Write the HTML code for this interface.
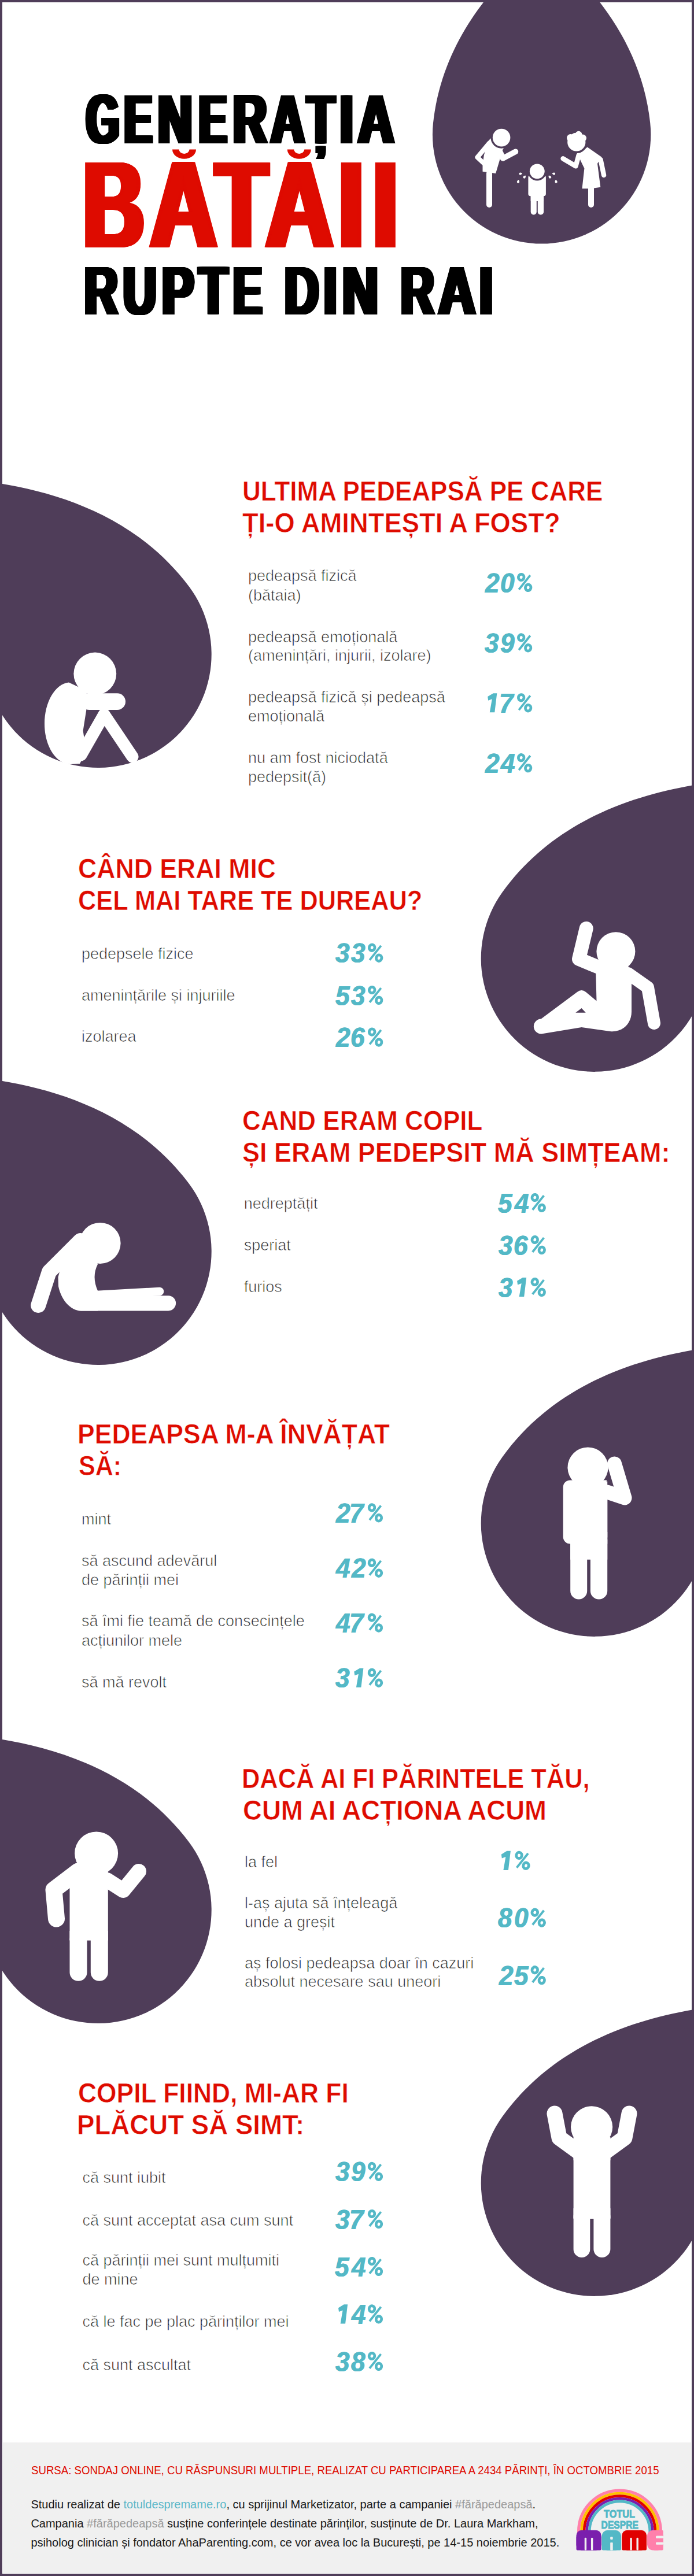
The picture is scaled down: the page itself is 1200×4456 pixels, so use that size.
<!DOCTYPE html>
<html><head><meta charset="utf-8"><title>Generatia bataii</title>
<style>
html,body{margin:0;padding:0;background:#fff}
#page{position:relative;width:1200px;height:4456px;overflow:hidden;background:#fff}
.t{position:absolute;white-space:nowrap;line-height:1;transform-origin:0 0}
svg{position:absolute;left:0;top:0}
</style></head><body>
<div id="page">
<svg width="1200" height="4456" viewBox="0 0 1200 4456"><path d="M936.60,-98.37 C1019.50,-30.13 1108.83,71.00 1124.20,212.52 A188.70 188.70 0 1 1 749.00,212.52 C764.37,71.00 853.70,-30.13 936.60,-98.37 Z" fill="#4f3d59"/>
<path d="M-5.83,835.33 C104.47,852.53 237.94,895.75 326.60,1014.27 A196.20 196.20 0 1 1 -9.18,1212.85 C-70.33,1078.06 -43.90,940.28 -5.83,835.33 Z" fill="#4f3d59"/>
<path d="M1197.13,1358.43 C1237.17,1462.51 1266.21,1599.62 1207.72,1735.43 A196.00 196.00 0 1 1 868.53,1543.53 C954.81,1423.44 1087.29,1377.72 1197.13,1358.43 Z" fill="#4f3d59"/>
<path d="M-5.83,1868.33 C104.47,1885.53 237.94,1928.75 326.60,2047.27 A196.20 196.20 0 1 1 -9.18,2245.85 C-70.33,2111.06 -43.90,1973.28 -5.83,1868.33 Z" fill="#4f3d59"/>
<path d="M1197.13,2335.43 C1237.17,2439.51 1266.21,2576.62 1207.72,2712.43 A196.00 196.00 0 1 1 868.53,2520.53 C954.81,2400.44 1087.29,2354.72 1197.13,2335.43 Z" fill="#4f3d59"/>
<path d="M-5.83,3007.33 C104.47,3024.53 237.94,3067.75 326.60,3186.27 A196.20 196.20 0 1 1 -9.18,3384.85 C-70.33,3250.06 -43.90,3112.28 -5.83,3007.33 Z" fill="#4f3d59"/>
<path d="M1197.13,3476.43 C1237.17,3580.51 1266.21,3717.62 1207.72,3853.43 A196.00 196.00 0 1 1 868.53,3661.53 C954.81,3541.44 1087.29,3495.72 1197.13,3476.43 Z" fill="#4f3d59"/>
<polygon points="845,243 853,235 875,250 869.5,258.4 857.1,300 834.5,296.7 834.5,285 836.8,268.5 840.5,256" fill="#ffffff"/>
<polyline points="846.1,247.4 825.4,272.1 836.4,282.4" fill="none" stroke="#ffffff" stroke-width="8" stroke-linecap="round" stroke-linejoin="round"/>
<polyline points="865.6,264.3 869.5,274 891.5,262.3" fill="none" stroke="#ffffff" stroke-width="9.5" stroke-linecap="round" stroke-linejoin="round"/>
<polyline points="846,300 846,354" fill="none" stroke="#ffffff" stroke-width="10" stroke-linecap="round" stroke-linejoin="round"/>
<circle cx="867.1" cy="238.1" r="18.6" fill="#4f3d59"/>
<circle cx="867.1" cy="238.1" r="15.3" fill="#ffffff"/>
<rect x="913.4" y="302.9" width="30.5" height="36.3" rx="4" fill="#ffffff"/>
<rect x="917.7" y="330" width="10.1" height="41.4" rx="5" fill="#ffffff"/>
<rect x="929.8" y="330" width="10.3" height="41.4" rx="5" fill="#ffffff"/>
<rect x="917.7" y="330" width="22.4" height="18" rx="0" fill="#ffffff"/>
<circle cx="928.8" cy="296.3" r="16.2" fill="#4f3d59"/>
<circle cx="928.8" cy="296.3" r="12.9" fill="#ffffff"/>
<path d="M903.13,299.86 C902.54,300.90 901.61,302.07 900.09,302.52 A2.10 2.10 0 1 1 899.36,298.40 C900.94,298.30 902.22,299.08 903.13,299.86 Z" fill="#ffffff"/>
<path d="M908.87,303.68 C909.09,304.85 909.13,306.35 908.25,307.67 A2.10 2.10 0 1 1 905.05,304.98 C906.19,303.89 907.67,303.66 908.87,303.68 Z" fill="#ffffff"/>
<path d="M896.64,310.97 C897.42,311.88 898.20,313.16 898.10,314.74 A2.10 2.10 0 1 1 893.98,314.01 C894.43,312.49 895.60,311.56 896.64,310.97 Z" fill="#ffffff"/>
<path d="M954.47,299.86 C955.38,299.08 956.66,298.30 958.24,298.40 A2.10 2.10 0 1 1 957.51,302.52 C955.99,302.07 955.06,300.90 954.47,299.86 Z" fill="#ffffff"/>
<path d="M948.73,303.68 C949.93,303.66 951.41,303.89 952.55,304.98 A2.10 2.10 0 1 1 949.35,307.67 C948.47,306.35 948.51,304.85 948.73,303.68 Z" fill="#ffffff"/>
<path d="M960.96,310.97 C962.00,311.56 963.17,312.49 963.62,314.01 A2.10 2.10 0 1 1 959.50,314.74 C959.40,313.16 960.18,311.88 960.96,310.97 Z" fill="#ffffff"/>
<polygon points="1000,266.7 1015.6,254.4 1040,271.5 1033,283 1038.3,323.7 1022,326.3 1006.5,326.3 1010.4,291.3 1003.5,277" fill="#ffffff"/>
<polyline points="1038.5,276 1044.1,303" fill="none" stroke="#ffffff" stroke-width="8.4" stroke-linecap="round" stroke-linejoin="round"/>
<polyline points="1000.7,268.3 995.5,287.4 973.5,274.3" fill="none" stroke="#ffffff" stroke-width="8.4" stroke-linecap="round" stroke-linejoin="round"/>
<polyline points="1022,326 1022,354" fill="none" stroke="#ffffff" stroke-width="10" stroke-linecap="round" stroke-linejoin="round"/>
<circle cx="996.8" cy="245.9" r="19.2" fill="#4f3d59"/>
<circle cx="996.8" cy="245.9" r="15.6" fill="#ffffff"/>
<circle cx="1000.5" cy="232.5" r="5.8" fill="#ffffff"/>
<circle cx="1007.5" cy="239" r="6.5" fill="#ffffff"/>
<circle cx="986.5" cy="238.5" r="6.5" fill="#ffffff"/>
<circle cx="994" cy="236" r="6" fill="#ffffff"/>
<path d="M119,1180.5 C95,1183 77,1215 77,1252 C77,1292 98,1322 122,1322 L138,1321 L149,1300 L143.6,1264 L149.3,1228 L150,1195 Z" fill="#fff"/>
<polyline points="140,1306 180,1236" fill="none" stroke="#ffffff" stroke-width="21" stroke-linecap="round" stroke-linejoin="round"/>
<polyline points="180,1236 229,1309" fill="none" stroke="#ffffff" stroke-width="21" stroke-linecap="round" stroke-linejoin="round"/>
<rect x="140" y="1199.3" width="77" height="28.7" rx="14.3" fill="#ffffff"/>
<circle cx="164.3" cy="1165.5" r="36.9" fill="#ffffff"/>
<polyline points="1013.7,1606 1001,1659 1035,1673" fill="none" stroke="#ffffff" stroke-width="24" stroke-linecap="round" stroke-linejoin="round"/>
<polyline points="1086,1684 1120,1708 1131,1770" fill="none" stroke="#ffffff" stroke-width="22" stroke-linecap="round" stroke-linejoin="round"/>
<path d="M1030,1672 L1085,1664 L1092,1700 L1092,1750 C1092,1772 1075,1786 1055,1784 L1005.6,1777 L936,1788.5 A12.9 12.9 0 0 1 935.6,1762.6 L998,1716 Q1005.6,1710 1013,1716 L1031.5,1731.5 Z" fill="#fff"/>
<polygon points="995.2,1751.7 1005.6,1743.9 1012.8,1751.7" fill="#4f3d59"/>
<circle cx="1064.9" cy="1645.7" r="33.5" fill="#ffffff"/>
<polyline points="139,2146 85,2200 66.2,2258" fill="none" stroke="#ffffff" stroke-width="26" stroke-linecap="round" stroke-linejoin="round"/>
<path d="M132.8,2136.3 L160,2165 L169.1,2186.7 Q158,2208 169.1,2233.1 L169.1,2267.4 L136.8,2267.4 C118,2264 105,2245 101,2225 L100.5,2208.9 L110,2175 Z" fill="#fff"/>
<polyline points="167,2240 276,2234" fill="none" stroke="#ffffff" stroke-width="14.5" stroke-linecap="round" stroke-linejoin="round"/>
<polyline points="140,2254.3 291,2254.3" fill="none" stroke="#ffffff" stroke-width="26.2" stroke-linecap="round" stroke-linejoin="round"/>
<circle cx="173.1" cy="2150.4" r="35.5" fill="#ffffff"/>
<rect x="973.7" y="2560.4" width="76.5" height="110.2" rx="12" fill="#ffffff"/>
<rect x="1000" y="2560.4" width="50.2" height="110.2" rx="0" fill="#ffffff"/>
<rect x="986.2" y="2650" width="29" height="116.6" rx="14.5" fill="#ffffff"/>
<rect x="1020.9" y="2650" width="29.3" height="116.6" rx="14.6" fill="#ffffff"/>
<rect x="986.2" y="2650" width="64" height="47.8" rx="0" fill="#ffffff"/>
<polyline points="1062.5,2532 1080,2591 1050,2581" fill="none" stroke="#ffffff" stroke-width="25" stroke-linecap="round" stroke-linejoin="round"/>
<polygon points="1048.5,2562.5 1051.5,2554 1054.5,2562.5" fill="#4f3d59"/>
<circle cx="1016.5" cy="2538.4" r="35" fill="#ffffff"/>
<rect x="120.5" y="3235.3" width="66.3" height="121" rx="0" fill="#ffffff"/>
<rect x="120.5" y="3340" width="30" height="86.8" rx="15" fill="#ffffff"/>
<rect x="156.8" y="3340" width="30" height="86.8" rx="15" fill="#ffffff"/>
<rect x="120.5" y="3340" width="66.3" height="16.5" rx="0" fill="#ffffff"/>
<polyline points="135,3237 93,3269 97.5,3319" fill="none" stroke="#ffffff" stroke-width="29" stroke-linecap="round" stroke-linejoin="round"/>
<polyline points="185,3252 213,3270 240,3237" fill="none" stroke="#ffffff" stroke-width="26" stroke-linecap="round" stroke-linejoin="round"/>
<circle cx="166.6" cy="3205.9" r="37.5" fill="#ffffff"/>
<rect x="991.6" y="3725" width="63.8" height="113" rx="0" fill="#ffffff"/>
<rect x="991.6" y="3820" width="28.7" height="85" rx="14.3" fill="#ffffff"/>
<rect x="1026.4" y="3820" width="29" height="85" rx="14.5" fill="#ffffff"/>
<rect x="991.6" y="3820" width="63.8" height="17.2" rx="0" fill="#ffffff"/>
<polyline points="959,3656 967,3698 1000,3722" fill="none" stroke="#ffffff" stroke-width="27" stroke-linecap="round" stroke-linejoin="round"/>
<polyline points="1088,3656 1080,3698 1047,3722" fill="none" stroke="#ffffff" stroke-width="27" stroke-linecap="round" stroke-linejoin="round"/>
<rect x="991.6" y="3697" width="63.8" height="40" rx="0" fill="#ffffff"/>
<circle cx="1023.1" cy="3679.3" r="36.1" fill="#ffffff"/>
<path d="M298.0,258.6 A20.5 16.2 0 0 0 339.0,258.6 L327.5,258.6 A9 7.3 0 0 1 309.5,258.6 Z" fill="#de0b00"/>
<path d="M496.79999999999995,258.6 A20.5 16.2 0 0 0 537.8,258.6 L526.3,258.6 A9 7.3 0 0 1 508.29999999999995,258.6 Z" fill="#de0b00"/>
<rect x="5" y="4225" width="1190" height="226" rx="0" fill="#f0f0f0"/>
<path d="M1000.6,4383 L1000.6,4379 A70.9 70.9 0 0 1 1142.4,4379 L1142.4,4383" fill="none" stroke="#ff80ab" stroke-width="5.2"/>
<path d="M1005.5,4383 L1005.5,4379 A66.0 66.0 0 0 1 1137.5,4379 L1137.5,4383" fill="none" stroke="#ffc000" stroke-width="4.6"/>
<path d="M1010.1,4383 L1010.1,4379 A61.4 61.4 0 0 1 1132.9,4379 L1132.9,4383" fill="none" stroke="#e00000" stroke-width="4.6"/>
<path d="M1014.7,4383 L1014.7,4379 A56.8 56.8 0 0 1 1128.3,4379 L1128.3,4383" fill="none" stroke="#7a1fad" stroke-width="4.6"/>
<path d="M1019.3,4383 L1019.3,4379 A52.2 52.2 0 0 1 1123.7,4379 L1123.7,4383" fill="none" stroke="#53b8c6" stroke-width="4.6"/>
<text x="1071" y="4355.4" text-anchor="middle" font-family="Liberation Sans" font-weight="bold" font-size="18.5" fill="#53b8c6" stroke="#53b8c6" stroke-width="0.9" textLength="54" lengthAdjust="spacingAndGlyphs">TOTUL</text>
<text x="1071.8" y="4373.8" text-anchor="middle" font-family="Liberation Sans" font-weight="bold" font-size="18.5" fill="#53b8c6" stroke="#53b8c6" stroke-width="0.9" textLength="64.4" lengthAdjust="spacingAndGlyphs">DESPRE</text>
<rect x="996.5" y="4376.8" width="43.09999999999991" height="34.599999999999454" rx="9" fill="#7a1fad"/>
<rect x="996.5" y="4386.8" width="43.09999999999991" height="24.599999999999454" rx="2" fill="#7a1fad"/>
<rect x="1010.747" y="4389.8" width="3.4" height="21.599999999999454" rx="1.5" fill="#f0f0f0"/>
<rect x="1021.9529999999999" y="4389.8" width="3.4" height="21.599999999999454" rx="1.5" fill="#f0f0f0"/>
<rect x="1040.7" y="4376.8" width="33.3" height="34.6" rx="10" fill="#53b8c6"/>
<rect x="1040.7" y="4386" width="33.3" height="25.4" rx="2" fill="#53b8c6"/>
<rect x="1055.2" y="4398" width="4.5" height="13.4" rx="1" fill="#f0f0f0"/>
<rect x="1055.2" y="4388" width="4.5" height="5" rx="1.5" fill="#f0f0f0"/>
<rect x="1075.3" y="4376.8" width="42.700000000000045" height="34.599999999999454" rx="9" fill="#e00000"/>
<rect x="1075.3" y="4386.8" width="42.700000000000045" height="24.599999999999454" rx="2" fill="#e00000"/>
<rect x="1089.399" y="4389.8" width="3.4" height="21.599999999999454" rx="1.5" fill="#f0f0f0"/>
<rect x="1100.501" y="4389.8" width="3.4" height="21.599999999999454" rx="1.5" fill="#f0f0f0"/>
<rect x="1119" y="4376.8" width="27.8" height="34.6" rx="10" fill="#ff80ab"/>
<rect x="1130" y="4376.8" width="16.8" height="34.6" rx="2" fill="#ff80ab"/>
<rect x="1134" y="4386.5" width="13" height="4.2" rx="1.5" fill="#f0f0f0"/>
<rect x="1134" y="4397.5" width="13" height="4.2" rx="1.5" fill="#f0f0f0"/></svg>
<div class="t" style="left:418.9px;top:826.0px;font-size:47.8px;color:#de0b00;font-family:'Liberation Sans',sans-serif;font-weight:bold;-webkit-text-stroke:0.6px #fff;transform:scaleX(0.9205);">ULTIMA PEDEAPSĂ PE CARE</div>
<div class="t" style="left:419.1px;top:881.0px;font-size:47.8px;color:#de0b00;font-family:'Liberation Sans',sans-serif;font-weight:bold;-webkit-text-stroke:0.6px #fff;transform:scaleX(0.9496);">ȚI-O AMINTEȘTI A FOST?</div>
<div class="t" style="left:429.0px;top:983.4px;font-size:27px;color:#262626;font-family:'Liberation Sans',sans-serif;font-weight:normal;-webkit-text-stroke:0.75px #fff;">pedeapsă fizică</div>
<div class="t" style="left:429.0px;top:1016.6px;font-size:27px;color:#262626;font-family:'Liberation Sans',sans-serif;font-weight:normal;-webkit-text-stroke:0.75px #fff;">(bătaia)</div>
<div class="t" style="left:429.0px;top:1089.1px;font-size:27px;color:#262626;font-family:'Liberation Sans',sans-serif;font-weight:normal;-webkit-text-stroke:0.75px #fff;">pedeapsă emoțională</div>
<div class="t" style="left:429.0px;top:1121.4px;font-size:27px;color:#262626;font-family:'Liberation Sans',sans-serif;font-weight:normal;-webkit-text-stroke:0.75px #fff;">(amenințări, injurii, izolare)</div>
<div class="t" style="left:429.0px;top:1193.2px;font-size:27px;color:#262626;font-family:'Liberation Sans',sans-serif;font-weight:normal;-webkit-text-stroke:0.75px #fff;">pedeapsă fizică și pedeapsă</div>
<div class="t" style="left:429.0px;top:1226.3px;font-size:27px;color:#262626;font-family:'Liberation Sans',sans-serif;font-weight:normal;-webkit-text-stroke:0.75px #fff;">emoțională</div>
<div class="t" style="left:429.0px;top:1298.3px;font-size:27px;color:#262626;font-family:'Liberation Sans',sans-serif;font-weight:normal;-webkit-text-stroke:0.75px #fff;">nu am fost niciodată</div>
<div class="t" style="left:429.0px;top:1330.9px;font-size:27px;color:#262626;font-family:'Liberation Sans',sans-serif;font-weight:normal;-webkit-text-stroke:0.75px #fff;">pedepsit(ă)</div>
<div class="t" style="left:135.2px;top:1479.0px;font-size:47.8px;color:#de0b00;font-family:'Liberation Sans',sans-serif;font-weight:bold;-webkit-text-stroke:0.6px #fff;transform:scaleX(0.9334);">CÂND ERAI MIC</div>
<div class="t" style="left:135.3px;top:1533.7px;font-size:47.8px;color:#de0b00;font-family:'Liberation Sans',sans-serif;font-weight:bold;-webkit-text-stroke:0.6px #fff;transform:scaleX(0.9063);">CEL MAI TARE TE DUREAU?</div>
<div class="t" style="left:141.0px;top:1636.9px;font-size:27px;color:#262626;font-family:'Liberation Sans',sans-serif;font-weight:normal;-webkit-text-stroke:0.75px #fff;">pedepsele fizice</div>
<div class="t" style="left:141.0px;top:1709.0px;font-size:27px;color:#262626;font-family:'Liberation Sans',sans-serif;font-weight:normal;-webkit-text-stroke:0.75px #fff;">amenințările și injuriile</div>
<div class="t" style="left:141.0px;top:1780.4px;font-size:27px;color:#262626;font-family:'Liberation Sans',sans-serif;font-weight:normal;-webkit-text-stroke:0.75px #fff;">izolarea</div>
<div class="t" style="left:418.6px;top:1915.0px;font-size:47.8px;color:#de0b00;font-family:'Liberation Sans',sans-serif;font-weight:bold;-webkit-text-stroke:0.6px #fff;transform:scaleX(0.9203);">CAND ERAM COPIL</div>
<div class="t" style="left:418.5px;top:1969.8px;font-size:47.8px;color:#de0b00;font-family:'Liberation Sans',sans-serif;font-weight:bold;-webkit-text-stroke:0.6px #fff;transform:scaleX(0.9408);">ȘI ERAM PEDEPSIT MĂ SIMȚEAM:</div>
<div class="t" style="left:421.8px;top:2069.0px;font-size:27px;color:#262626;font-family:'Liberation Sans',sans-serif;font-weight:normal;-webkit-text-stroke:0.75px #fff;">nedreptățit</div>
<div class="t" style="left:421.8px;top:2141.2px;font-size:27px;color:#262626;font-family:'Liberation Sans',sans-serif;font-weight:normal;-webkit-text-stroke:0.75px #fff;">speriat</div>
<div class="t" style="left:421.8px;top:2212.5px;font-size:27px;color:#262626;font-family:'Liberation Sans',sans-serif;font-weight:normal;-webkit-text-stroke:0.75px #fff;">furios</div>
<div class="t" style="left:133.8px;top:2456.7px;font-size:47.8px;color:#de0b00;font-family:'Liberation Sans',sans-serif;font-weight:bold;-webkit-text-stroke:0.6px #fff;transform:scaleX(0.9313);">PEDEAPSA M-A ÎNVĂȚAT</div>
<div class="t" style="left:135.7px;top:2511.5px;font-size:47.8px;color:#de0b00;font-family:'Liberation Sans',sans-serif;font-weight:bold;-webkit-text-stroke:0.6px #fff;transform:scaleX(0.9013);">SĂ:</div>
<div class="t" style="left:141.0px;top:2614.7px;font-size:27px;color:#262626;font-family:'Liberation Sans',sans-serif;font-weight:normal;-webkit-text-stroke:0.75px #fff;">mint</div>
<div class="t" style="left:141.0px;top:2686.9px;font-size:27px;color:#262626;font-family:'Liberation Sans',sans-serif;font-weight:normal;-webkit-text-stroke:0.75px #fff;">să ascund adevărul</div>
<div class="t" style="left:141.0px;top:2720.2px;font-size:27px;color:#262626;font-family:'Liberation Sans',sans-serif;font-weight:normal;-webkit-text-stroke:0.75px #fff;">de părinții mei</div>
<div class="t" style="left:141.0px;top:2791.0px;font-size:27px;color:#262626;font-family:'Liberation Sans',sans-serif;font-weight:normal;-webkit-text-stroke:0.75px #fff;">să îmi fie teamă de consecințele</div>
<div class="t" style="left:141.0px;top:2824.5px;font-size:27px;color:#262626;font-family:'Liberation Sans',sans-serif;font-weight:normal;-webkit-text-stroke:0.75px #fff;">acțiunilor mele</div>
<div class="t" style="left:141.0px;top:2896.5px;font-size:27px;color:#262626;font-family:'Liberation Sans',sans-serif;font-weight:normal;-webkit-text-stroke:0.75px #fff;">să mă revolt</div>
<div class="t" style="left:418.2px;top:3052.7px;font-size:47.8px;color:#de0b00;font-family:'Liberation Sans',sans-serif;font-weight:bold;-webkit-text-stroke:0.6px #fff;transform:scaleX(0.9087);">DACĂ AI FI PĂRINTELE TĂU,</div>
<div class="t" style="left:419.9px;top:3107.6px;font-size:47.8px;color:#de0b00;font-family:'Liberation Sans',sans-serif;font-weight:bold;-webkit-text-stroke:0.6px #fff;transform:scaleX(0.9538);">CUM AI ACȚIONA ACUM</div>
<div class="t" style="left:423.0px;top:3207.6px;font-size:27px;color:#262626;font-family:'Liberation Sans',sans-serif;font-weight:normal;-webkit-text-stroke:0.75px #fff;">la fel</div>
<div class="t" style="left:423.0px;top:3279.0px;font-size:27px;color:#262626;font-family:'Liberation Sans',sans-serif;font-weight:normal;-webkit-text-stroke:0.75px #fff;">l-aș ajuta să înțeleagă</div>
<div class="t" style="left:423.0px;top:3312.4px;font-size:27px;color:#262626;font-family:'Liberation Sans',sans-serif;font-weight:normal;-webkit-text-stroke:0.75px #fff;">unde a greșit</div>
<div class="t" style="left:423.0px;top:3383.0px;font-size:27px;color:#262626;font-family:'Liberation Sans',sans-serif;font-weight:normal;-webkit-text-stroke:0.75px #fff;">aș folosi pedeapsa doar în cazuri</div>
<div class="t" style="left:423.0px;top:3415.0px;font-size:27px;color:#262626;font-family:'Liberation Sans',sans-serif;font-weight:normal;-webkit-text-stroke:0.75px #fff;">absolut necesare sau uneori</div>
<div class="t" style="left:135.2px;top:3596.8px;font-size:47.8px;color:#de0b00;font-family:'Liberation Sans',sans-serif;font-weight:bold;-webkit-text-stroke:0.6px #fff;transform:scaleX(0.9289);">COPIL FIIND, MI-AR FI</div>
<div class="t" style="left:133.3px;top:3651.6px;font-size:47.8px;color:#de0b00;font-family:'Liberation Sans',sans-serif;font-weight:bold;-webkit-text-stroke:0.6px #fff;transform:scaleX(0.9551);">PLĂCUT SĂ SIMT:</div>
<div class="t" style="left:142.4px;top:3754.3px;font-size:27px;color:#262626;font-family:'Liberation Sans',sans-serif;font-weight:normal;-webkit-text-stroke:0.75px #fff;">că sunt iubit</div>
<div class="t" style="left:142.4px;top:3827.5px;font-size:27px;color:#262626;font-family:'Liberation Sans',sans-serif;font-weight:normal;-webkit-text-stroke:0.75px #fff;">că sunt acceptat asa cum sunt</div>
<div class="t" style="left:142.4px;top:3896.7px;font-size:27px;color:#262626;font-family:'Liberation Sans',sans-serif;font-weight:normal;-webkit-text-stroke:0.75px #fff;">că părinții mei sunt mulțumiti</div>
<div class="t" style="left:142.4px;top:3930.0px;font-size:27px;color:#262626;font-family:'Liberation Sans',sans-serif;font-weight:normal;-webkit-text-stroke:0.75px #fff;">de mine</div>
<div class="t" style="left:142.4px;top:4003.0px;font-size:27px;color:#262626;font-family:'Liberation Sans',sans-serif;font-weight:normal;-webkit-text-stroke:0.75px #fff;">că le fac pe plac părinților mei</div>
<div class="t" style="left:142.4px;top:4077.5px;font-size:27px;color:#262626;font-family:'Liberation Sans',sans-serif;font-weight:normal;-webkit-text-stroke:0.75px #fff;">că sunt ascultat</div>
<div class="t" style="left:53.5px;top:4263.0px;font-size:20px;color:#de0b00;font-family:'Liberation Sans',sans-serif;font-weight:normal;transform:scaleX(0.9314);">SURSA: SONDAJ ONLINE, CU RĂSPUNSURI MULTIPLE, REALIZAT CU PARTICIPAREA A 2434 PĂRINȚI, ÎN OCTOMBRIE 2015</div>
<div class="t" style="left:53.4px;top:4321.8px;font-size:20px;color:#1a1a1a;font-family:'Liberation Sans',sans-serif;font-weight:normal;">Studiu realizat de <span style="color:#5bb8c9">totuldespremame.ro</span>, cu sprijinul Marketizator, parte a campaniei <span style="color:#9a9a9a">#fărăpedeapsă</span>.</div>
<div class="t" style="left:53.4px;top:4355.2px;font-size:20px;color:#1a1a1a;font-family:'Liberation Sans',sans-serif;font-weight:normal;">Campania <span style="color:#9a9a9a">#fărăpedeapsă</span> susține conferințele destinate părinților, susținute de Dr. Laura Markham,</div>
<div class="t" style="left:53.4px;top:4388.0px;font-size:20px;color:#1a1a1a;font-family:'Liberation Sans',sans-serif;font-weight:normal;">psiholog clinician și fondator AhaParenting.com, ce vor avea loc la București, pe 14-15 noiembrie 2015.</div>
<div class="t" style="left:839.00px;top:984.50px;font-size:48px;color:#53b8c6;font-family:'Liberation Sans',sans-serif;font-weight:bold;font-style:italic;transform:scaleX(0.92);text-shadow:0.6px 0 0 #53b8c6,-0.6px 0 0 #53b8c6">2</div>
<div class="t" style="left:864.92px;top:984.50px;font-size:48px;color:#53b8c6;font-family:'Liberation Sans',sans-serif;font-weight:bold;font-style:italic;transform:scaleX(0.92);text-shadow:0.6px 0 0 #53b8c6,-0.6px 0 0 #53b8c6">0</div>
<div class="t" style="left:838.08px;top:1088.90px;font-size:48px;color:#53b8c6;font-family:'Liberation Sans',sans-serif;font-weight:bold;font-style:italic;transform:scaleX(0.92);text-shadow:0.6px 0 0 #53b8c6,-0.6px 0 0 #53b8c6">3</div>
<div class="t" style="left:864.92px;top:1088.90px;font-size:48px;color:#53b8c6;font-family:'Liberation Sans',sans-serif;font-weight:bold;font-style:italic;transform:scaleX(0.92);text-shadow:0.6px 0 0 #53b8c6,-0.6px 0 0 #53b8c6">9</div>
<div class="t" style="left:862.62px;top:1192.80px;font-size:48px;color:#53b8c6;font-family:'Liberation Sans',sans-serif;font-weight:bold;font-style:italic;transform:scaleX(0.92);text-shadow:0.6px 0 0 #53b8c6,-0.6px 0 0 #53b8c6">7</div>
<div class="t" style="left:839.00px;top:1296.70px;font-size:48px;color:#53b8c6;font-family:'Liberation Sans',sans-serif;font-weight:bold;font-style:italic;transform:scaleX(0.92);text-shadow:0.6px 0 0 #53b8c6,-0.6px 0 0 #53b8c6">2</div>
<div class="t" style="left:866.30px;top:1296.70px;font-size:48px;color:#53b8c6;font-family:'Liberation Sans',sans-serif;font-weight:bold;font-style:italic;transform:scaleX(0.92);text-shadow:0.6px 0 0 #53b8c6,-0.6px 0 0 #53b8c6">4</div>
<div class="t" style="left:580.08px;top:1625.30px;font-size:48px;color:#53b8c6;font-family:'Liberation Sans',sans-serif;font-weight:bold;font-style:italic;transform:scaleX(0.92);text-shadow:0.6px 0 0 #53b8c6,-0.6px 0 0 #53b8c6">3</div>
<div class="t" style="left:607.38px;top:1625.30px;font-size:48px;color:#53b8c6;font-family:'Liberation Sans',sans-serif;font-weight:bold;font-style:italic;transform:scaleX(0.92);text-shadow:0.6px 0 0 #53b8c6,-0.6px 0 0 #53b8c6">3</div>
<div class="t" style="left:579.62px;top:1698.50px;font-size:48px;color:#53b8c6;font-family:'Liberation Sans',sans-serif;font-weight:bold;font-style:italic;transform:scaleX(0.92);text-shadow:0.6px 0 0 #53b8c6,-0.6px 0 0 #53b8c6">5</div>
<div class="t" style="left:607.38px;top:1698.50px;font-size:48px;color:#53b8c6;font-family:'Liberation Sans',sans-serif;font-weight:bold;font-style:italic;transform:scaleX(0.92);text-shadow:0.6px 0 0 #53b8c6,-0.6px 0 0 #53b8c6">3</div>
<div class="t" style="left:581.00px;top:1771.10px;font-size:48px;color:#53b8c6;font-family:'Liberation Sans',sans-serif;font-weight:bold;font-style:italic;transform:scaleX(0.92);text-shadow:0.6px 0 0 #53b8c6,-0.6px 0 0 #53b8c6">2</div>
<div class="t" style="left:606.46px;top:1771.10px;font-size:48px;color:#53b8c6;font-family:'Liberation Sans',sans-serif;font-weight:bold;font-style:italic;transform:scaleX(0.92);text-shadow:0.6px 0 0 #53b8c6,-0.6px 0 0 #53b8c6">6</div>
<div class="t" style="left:861.22px;top:2057.50px;font-size:48px;color:#53b8c6;font-family:'Liberation Sans',sans-serif;font-weight:bold;font-style:italic;transform:scaleX(0.92);text-shadow:0.6px 0 0 #53b8c6,-0.6px 0 0 #53b8c6">5</div>
<div class="t" style="left:889.90px;top:2057.50px;font-size:48px;color:#53b8c6;font-family:'Liberation Sans',sans-serif;font-weight:bold;font-style:italic;transform:scaleX(0.92);text-shadow:0.6px 0 0 #53b8c6,-0.6px 0 0 #53b8c6">4</div>
<div class="t" style="left:861.68px;top:2130.50px;font-size:48px;color:#53b8c6;font-family:'Liberation Sans',sans-serif;font-weight:bold;font-style:italic;transform:scaleX(0.92);text-shadow:0.6px 0 0 #53b8c6,-0.6px 0 0 #53b8c6">3</div>
<div class="t" style="left:888.06px;top:2130.50px;font-size:48px;color:#53b8c6;font-family:'Liberation Sans',sans-serif;font-weight:bold;font-style:italic;transform:scaleX(0.92);text-shadow:0.6px 0 0 #53b8c6,-0.6px 0 0 #53b8c6">6</div>
<div class="t" style="left:861.68px;top:2203.50px;font-size:48px;color:#53b8c6;font-family:'Liberation Sans',sans-serif;font-weight:bold;font-style:italic;transform:scaleX(0.92);text-shadow:0.6px 0 0 #53b8c6,-0.6px 0 0 #53b8c6">3</div>
<div class="t" style="left:580.80px;top:2593.90px;font-size:48px;color:#53b8c6;font-family:'Liberation Sans',sans-serif;font-weight:bold;font-style:italic;transform:scaleX(0.92);text-shadow:0.6px 0 0 #53b8c6,-0.6px 0 0 #53b8c6">2</div>
<div class="t" style="left:604.42px;top:2593.90px;font-size:48px;color:#53b8c6;font-family:'Liberation Sans',sans-serif;font-weight:bold;font-style:italic;transform:scaleX(0.92);text-shadow:0.6px 0 0 #53b8c6,-0.6px 0 0 #53b8c6">7</div>
<div class="t" style="left:580.80px;top:2689.30px;font-size:48px;color:#53b8c6;font-family:'Liberation Sans',sans-serif;font-weight:bold;font-style:italic;transform:scaleX(0.92);text-shadow:0.6px 0 0 #53b8c6,-0.6px 0 0 #53b8c6">4</div>
<div class="t" style="left:608.10px;top:2689.30px;font-size:48px;color:#53b8c6;font-family:'Liberation Sans',sans-serif;font-weight:bold;font-style:italic;transform:scaleX(0.92);text-shadow:0.6px 0 0 #53b8c6,-0.6px 0 0 #53b8c6">2</div>
<div class="t" style="left:580.80px;top:2784.10px;font-size:48px;color:#53b8c6;font-family:'Liberation Sans',sans-serif;font-weight:bold;font-style:italic;transform:scaleX(0.92);text-shadow:0.6px 0 0 #53b8c6,-0.6px 0 0 #53b8c6">4</div>
<div class="t" style="left:604.42px;top:2784.10px;font-size:48px;color:#53b8c6;font-family:'Liberation Sans',sans-serif;font-weight:bold;font-style:italic;transform:scaleX(0.92);text-shadow:0.6px 0 0 #53b8c6,-0.6px 0 0 #53b8c6">7</div>
<div class="t" style="left:579.88px;top:2879.30px;font-size:48px;color:#53b8c6;font-family:'Liberation Sans',sans-serif;font-weight:bold;font-style:italic;transform:scaleX(0.92);text-shadow:0.6px 0 0 #53b8c6,-0.6px 0 0 #53b8c6">3</div>
<div class="t" style="left:861.22px;top:3294.20px;font-size:48px;color:#53b8c6;font-family:'Liberation Sans',sans-serif;font-weight:bold;font-style:italic;transform:scaleX(0.92);text-shadow:0.6px 0 0 #53b8c6,-0.6px 0 0 #53b8c6">8</div>
<div class="t" style="left:888.52px;top:3294.20px;font-size:48px;color:#53b8c6;font-family:'Liberation Sans',sans-serif;font-weight:bold;font-style:italic;transform:scaleX(0.92);text-shadow:0.6px 0 0 #53b8c6,-0.6px 0 0 #53b8c6">0</div>
<div class="t" style="left:862.60px;top:3393.70px;font-size:48px;color:#53b8c6;font-family:'Liberation Sans',sans-serif;font-weight:bold;font-style:italic;transform:scaleX(0.92);text-shadow:0.6px 0 0 #53b8c6,-0.6px 0 0 #53b8c6">2</div>
<div class="t" style="left:888.52px;top:3393.70px;font-size:48px;color:#53b8c6;font-family:'Liberation Sans',sans-serif;font-weight:bold;font-style:italic;transform:scaleX(0.92);text-shadow:0.6px 0 0 #53b8c6,-0.6px 0 0 #53b8c6">5</div>
<div class="t" style="left:579.88px;top:3733.40px;font-size:48px;color:#53b8c6;font-family:'Liberation Sans',sans-serif;font-weight:bold;font-style:italic;transform:scaleX(0.92);text-shadow:0.6px 0 0 #53b8c6,-0.6px 0 0 #53b8c6">3</div>
<div class="t" style="left:606.72px;top:3733.40px;font-size:48px;color:#53b8c6;font-family:'Liberation Sans',sans-serif;font-weight:bold;font-style:italic;transform:scaleX(0.92);text-shadow:0.6px 0 0 #53b8c6,-0.6px 0 0 #53b8c6">9</div>
<div class="t" style="left:579.88px;top:3815.50px;font-size:48px;color:#53b8c6;font-family:'Liberation Sans',sans-serif;font-weight:bold;font-style:italic;transform:scaleX(0.92);text-shadow:0.6px 0 0 #53b8c6,-0.6px 0 0 #53b8c6">3</div>
<div class="t" style="left:604.42px;top:3815.50px;font-size:48px;color:#53b8c6;font-family:'Liberation Sans',sans-serif;font-weight:bold;font-style:italic;transform:scaleX(0.92);text-shadow:0.6px 0 0 #53b8c6,-0.6px 0 0 #53b8c6">7</div>
<div class="t" style="left:579.42px;top:3897.50px;font-size:48px;color:#53b8c6;font-family:'Liberation Sans',sans-serif;font-weight:bold;font-style:italic;transform:scaleX(0.92);text-shadow:0.6px 0 0 #53b8c6,-0.6px 0 0 #53b8c6">5</div>
<div class="t" style="left:608.10px;top:3897.50px;font-size:48px;color:#53b8c6;font-family:'Liberation Sans',sans-serif;font-weight:bold;font-style:italic;transform:scaleX(0.92);text-shadow:0.6px 0 0 #53b8c6,-0.6px 0 0 #53b8c6">4</div>
<div class="t" style="left:608.10px;top:3979.90px;font-size:48px;color:#53b8c6;font-family:'Liberation Sans',sans-serif;font-weight:bold;font-style:italic;transform:scaleX(0.92);text-shadow:0.6px 0 0 #53b8c6,-0.6px 0 0 #53b8c6">4</div>
<div class="t" style="left:579.88px;top:4061.50px;font-size:48px;color:#53b8c6;font-family:'Liberation Sans',sans-serif;font-weight:bold;font-style:italic;transform:scaleX(0.92);text-shadow:0.6px 0 0 #53b8c6,-0.6px 0 0 #53b8c6">3</div>
<div class="t" style="left:606.72px;top:4061.50px;font-size:48px;color:#53b8c6;font-family:'Liberation Sans',sans-serif;font-weight:bold;font-style:italic;transform:scaleX(0.92);text-shadow:0.6px 0 0 #53b8c6,-0.6px 0 0 #53b8c6">8</div>
<svg width="1200" height="4456" style="position:absolute;left:0;top:0"><g transform="translate(0.00,0.00)" fill="none" stroke="#53b8c6"><ellipse cx="901.2" cy="998.5" rx="4.8" ry="5.2" stroke-width="4.8" transform="rotate(12 901.2 998.5)"/><ellipse cx="913.2" cy="1016.4" rx="4.7" ry="5.3" stroke-width="4.8" transform="rotate(12 913.2 1016.4)"/><line x1="897.2" y1="1019.8" x2="916.8" y2="995.1" stroke-width="3.8"/></g><g transform="translate(0.00,104.40)" fill="none" stroke="#53b8c6"><ellipse cx="901.2" cy="998.5" rx="4.8" ry="5.2" stroke-width="4.8" transform="rotate(12 901.2 998.5)"/><ellipse cx="913.2" cy="1016.4" rx="4.7" ry="5.3" stroke-width="4.8" transform="rotate(12 913.2 1016.4)"/><line x1="897.2" y1="1019.8" x2="916.8" y2="995.1" stroke-width="3.8"/></g><polygon fill="#53b8c6" points="852.90,1199.20 859.30,1199.20 855.30,1232.30 846.80,1232.30 850.80,1209.30 844.20,1211.80 843.20,1205.10"/><g transform="translate(0.00,208.30)" fill="none" stroke="#53b8c6"><ellipse cx="901.2" cy="998.5" rx="4.8" ry="5.2" stroke-width="4.8" transform="rotate(12 901.2 998.5)"/><ellipse cx="913.2" cy="1016.4" rx="4.7" ry="5.3" stroke-width="4.8" transform="rotate(12 913.2 1016.4)"/><line x1="897.2" y1="1019.8" x2="916.8" y2="995.1" stroke-width="3.8"/></g><g transform="translate(0.00,312.20)" fill="none" stroke="#53b8c6"><ellipse cx="901.2" cy="998.5" rx="4.8" ry="5.2" stroke-width="4.8" transform="rotate(12 901.2 998.5)"/><ellipse cx="913.2" cy="1016.4" rx="4.7" ry="5.3" stroke-width="4.8" transform="rotate(12 913.2 1016.4)"/><line x1="897.2" y1="1019.8" x2="916.8" y2="995.1" stroke-width="3.8"/></g><g transform="translate(-258.00,640.80)" fill="none" stroke="#53b8c6"><ellipse cx="901.2" cy="998.5" rx="4.8" ry="5.2" stroke-width="4.8" transform="rotate(12 901.2 998.5)"/><ellipse cx="913.2" cy="1016.4" rx="4.7" ry="5.3" stroke-width="4.8" transform="rotate(12 913.2 1016.4)"/><line x1="897.2" y1="1019.8" x2="916.8" y2="995.1" stroke-width="3.8"/></g><g transform="translate(-258.00,714.00)" fill="none" stroke="#53b8c6"><ellipse cx="901.2" cy="998.5" rx="4.8" ry="5.2" stroke-width="4.8" transform="rotate(12 901.2 998.5)"/><ellipse cx="913.2" cy="1016.4" rx="4.7" ry="5.3" stroke-width="4.8" transform="rotate(12 913.2 1016.4)"/><line x1="897.2" y1="1019.8" x2="916.8" y2="995.1" stroke-width="3.8"/></g><g transform="translate(-258.00,786.60)" fill="none" stroke="#53b8c6"><ellipse cx="901.2" cy="998.5" rx="4.8" ry="5.2" stroke-width="4.8" transform="rotate(12 901.2 998.5)"/><ellipse cx="913.2" cy="1016.4" rx="4.7" ry="5.3" stroke-width="4.8" transform="rotate(12 913.2 1016.4)"/><line x1="897.2" y1="1019.8" x2="916.8" y2="995.1" stroke-width="3.8"/></g><g transform="translate(23.60,1073.00)" fill="none" stroke="#53b8c6"><ellipse cx="901.2" cy="998.5" rx="4.8" ry="5.2" stroke-width="4.8" transform="rotate(12 901.2 998.5)"/><ellipse cx="913.2" cy="1016.4" rx="4.7" ry="5.3" stroke-width="4.8" transform="rotate(12 913.2 1016.4)"/><line x1="897.2" y1="1019.8" x2="916.8" y2="995.1" stroke-width="3.8"/></g><g transform="translate(23.60,1146.00)" fill="none" stroke="#53b8c6"><ellipse cx="901.2" cy="998.5" rx="4.8" ry="5.2" stroke-width="4.8" transform="rotate(12 901.2 998.5)"/><ellipse cx="913.2" cy="1016.4" rx="4.7" ry="5.3" stroke-width="4.8" transform="rotate(12 913.2 1016.4)"/><line x1="897.2" y1="1019.8" x2="916.8" y2="995.1" stroke-width="3.8"/></g><polygon fill="#53b8c6" points="903.80,2209.90 910.20,2209.90 906.20,2243.00 897.70,2243.00 901.70,2220.00 895.10,2222.50 894.10,2215.80"/><g transform="translate(23.60,1219.00)" fill="none" stroke="#53b8c6"><ellipse cx="901.2" cy="998.5" rx="4.8" ry="5.2" stroke-width="4.8" transform="rotate(12 901.2 998.5)"/><ellipse cx="913.2" cy="1016.4" rx="4.7" ry="5.3" stroke-width="4.8" transform="rotate(12 913.2 1016.4)"/><line x1="897.2" y1="1019.8" x2="916.8" y2="995.1" stroke-width="3.8"/></g><g transform="translate(-258.20,1609.40)" fill="none" stroke="#53b8c6"><ellipse cx="901.2" cy="998.5" rx="4.8" ry="5.2" stroke-width="4.8" transform="rotate(12 901.2 998.5)"/><ellipse cx="913.2" cy="1016.4" rx="4.7" ry="5.3" stroke-width="4.8" transform="rotate(12 913.2 1016.4)"/><line x1="897.2" y1="1019.8" x2="916.8" y2="995.1" stroke-width="3.8"/></g><g transform="translate(-258.20,1704.80)" fill="none" stroke="#53b8c6"><ellipse cx="901.2" cy="998.5" rx="4.8" ry="5.2" stroke-width="4.8" transform="rotate(12 901.2 998.5)"/><ellipse cx="913.2" cy="1016.4" rx="4.7" ry="5.3" stroke-width="4.8" transform="rotate(12 913.2 1016.4)"/><line x1="897.2" y1="1019.8" x2="916.8" y2="995.1" stroke-width="3.8"/></g><g transform="translate(-258.20,1799.60)" fill="none" stroke="#53b8c6"><ellipse cx="901.2" cy="998.5" rx="4.8" ry="5.2" stroke-width="4.8" transform="rotate(12 901.2 998.5)"/><ellipse cx="913.2" cy="1016.4" rx="4.7" ry="5.3" stroke-width="4.8" transform="rotate(12 913.2 1016.4)"/><line x1="897.2" y1="1019.8" x2="916.8" y2="995.1" stroke-width="3.8"/></g><polygon fill="#53b8c6" points="622.00,2885.70 628.40,2885.70 624.40,2918.80 615.90,2918.80 619.90,2895.80 613.30,2898.30 612.30,2891.60"/><g transform="translate(-258.20,1894.80)" fill="none" stroke="#53b8c6"><ellipse cx="901.2" cy="998.5" rx="4.8" ry="5.2" stroke-width="4.8" transform="rotate(12 901.2 998.5)"/><ellipse cx="913.2" cy="1016.4" rx="4.7" ry="5.3" stroke-width="4.8" transform="rotate(12 913.2 1016.4)"/><line x1="897.2" y1="1019.8" x2="916.8" y2="995.1" stroke-width="3.8"/></g><polygon fill="#53b8c6" points="876.50,3201.80 882.90,3201.80 878.90,3234.90 870.40,3234.90 874.40,3211.90 867.80,3214.40 866.80,3207.70"/><g transform="translate(-3.70,2210.90)" fill="none" stroke="#53b8c6"><ellipse cx="901.2" cy="998.5" rx="4.8" ry="5.2" stroke-width="4.8" transform="rotate(12 901.2 998.5)"/><ellipse cx="913.2" cy="1016.4" rx="4.7" ry="5.3" stroke-width="4.8" transform="rotate(12 913.2 1016.4)"/><line x1="897.2" y1="1019.8" x2="916.8" y2="995.1" stroke-width="3.8"/></g><g transform="translate(23.60,2309.70)" fill="none" stroke="#53b8c6"><ellipse cx="901.2" cy="998.5" rx="4.8" ry="5.2" stroke-width="4.8" transform="rotate(12 901.2 998.5)"/><ellipse cx="913.2" cy="1016.4" rx="4.7" ry="5.3" stroke-width="4.8" transform="rotate(12 913.2 1016.4)"/><line x1="897.2" y1="1019.8" x2="916.8" y2="995.1" stroke-width="3.8"/></g><g transform="translate(23.60,2409.20)" fill="none" stroke="#53b8c6"><ellipse cx="901.2" cy="998.5" rx="4.8" ry="5.2" stroke-width="4.8" transform="rotate(12 901.2 998.5)"/><ellipse cx="913.2" cy="1016.4" rx="4.7" ry="5.3" stroke-width="4.8" transform="rotate(12 913.2 1016.4)"/><line x1="897.2" y1="1019.8" x2="916.8" y2="995.1" stroke-width="3.8"/></g><g transform="translate(-258.20,2748.90)" fill="none" stroke="#53b8c6"><ellipse cx="901.2" cy="998.5" rx="4.8" ry="5.2" stroke-width="4.8" transform="rotate(12 901.2 998.5)"/><ellipse cx="913.2" cy="1016.4" rx="4.7" ry="5.3" stroke-width="4.8" transform="rotate(12 913.2 1016.4)"/><line x1="897.2" y1="1019.8" x2="916.8" y2="995.1" stroke-width="3.8"/></g><g transform="translate(-258.20,2831.00)" fill="none" stroke="#53b8c6"><ellipse cx="901.2" cy="998.5" rx="4.8" ry="5.2" stroke-width="4.8" transform="rotate(12 901.2 998.5)"/><ellipse cx="913.2" cy="1016.4" rx="4.7" ry="5.3" stroke-width="4.8" transform="rotate(12 913.2 1016.4)"/><line x1="897.2" y1="1019.8" x2="916.8" y2="995.1" stroke-width="3.8"/></g><g transform="translate(-258.20,2913.00)" fill="none" stroke="#53b8c6"><ellipse cx="901.2" cy="998.5" rx="4.8" ry="5.2" stroke-width="4.8" transform="rotate(12 901.2 998.5)"/><ellipse cx="913.2" cy="1016.4" rx="4.7" ry="5.3" stroke-width="4.8" transform="rotate(12 913.2 1016.4)"/><line x1="897.2" y1="1019.8" x2="916.8" y2="995.1" stroke-width="3.8"/></g><polygon fill="#53b8c6" points="594.70,3986.30 601.10,3986.30 597.10,4019.40 588.60,4019.40 592.60,3996.40 586.00,3998.90 585.00,3992.20"/><g transform="translate(-258.20,2995.40)" fill="none" stroke="#53b8c6"><ellipse cx="901.2" cy="998.5" rx="4.8" ry="5.2" stroke-width="4.8" transform="rotate(12 901.2 998.5)"/><ellipse cx="913.2" cy="1016.4" rx="4.7" ry="5.3" stroke-width="4.8" transform="rotate(12 913.2 1016.4)"/><line x1="897.2" y1="1019.8" x2="916.8" y2="995.1" stroke-width="3.8"/></g><g transform="translate(-258.20,3077.00)" fill="none" stroke="#53b8c6"><ellipse cx="901.2" cy="998.5" rx="4.8" ry="5.2" stroke-width="4.8" transform="rotate(12 901.2 998.5)"/><ellipse cx="913.2" cy="1016.4" rx="4.7" ry="5.3" stroke-width="4.8" transform="rotate(12 913.2 1016.4)"/><line x1="897.2" y1="1019.8" x2="916.8" y2="995.1" stroke-width="3.8"/></g></svg>
<div class="t" style="left:148.53px;top:146.50px;font-size:119.91px;color:#000;font-family:'Liberation Sans',sans-serif;font-weight:bold;transform:scaleX(0.6136);text-shadow:1.63px 0 0 #000,-1.63px 0 0 #000,3.26px 0 0 #000,-3.26px 0 0 #000,4.89px 0 0 #000,-4.89px 0 0 #000,6.52px 0 0 #000,-6.52px 0 0 #000,7.17px 0 0 #000,-7.17px 0 0 #000">G</div>
<div class="t" style="left:215.10px;top:146.50px;font-size:119.91px;color:#000;font-family:'Liberation Sans',sans-serif;font-weight:bold;transform:scaleX(0.6000);text-shadow:1.67px 0 0 #000,-1.67px 0 0 #000,3.33px 0 0 #000,-3.33px 0 0 #000,5.00px 0 0 #000,-5.00px 0 0 #000,6.67px 0 0 #000,-6.67px 0 0 #000,7.33px 0 0 #000,-7.33px 0 0 #000">E</div>
<div class="t" style="left:272.91px;top:146.50px;font-size:119.91px;color:#000;font-family:'Liberation Sans',sans-serif;font-weight:bold;transform:scaleX(0.6859);text-shadow:1.46px 0 0 #000,-1.46px 0 0 #000,2.92px 0 0 #000,-2.92px 0 0 #000,4.37px 0 0 #000,-4.37px 0 0 #000,5.83px 0 0 #000,-5.83px 0 0 #000,6.41px 0 0 #000,-6.41px 0 0 #000">N</div>
<div class="t" style="left:344.10px;top:146.50px;font-size:119.91px;color:#000;font-family:'Liberation Sans',sans-serif;font-weight:bold;transform:scaleX(0.6000);text-shadow:1.67px 0 0 #000,-1.67px 0 0 #000,3.33px 0 0 #000,-3.33px 0 0 #000,5.00px 0 0 #000,-5.00px 0 0 #000,6.67px 0 0 #000,-6.67px 0 0 #000,7.33px 0 0 #000,-7.33px 0 0 #000">E</div>
<div class="t" style="left:402.63px;top:146.50px;font-size:119.91px;color:#000;font-family:'Liberation Sans',sans-serif;font-weight:bold;transform:scaleX(0.6707);text-shadow:1.49px 0 0 #000,-1.49px 0 0 #000,2.98px 0 0 #000,-2.98px 0 0 #000,4.47px 0 0 #000,-4.47px 0 0 #000,5.96px 0 0 #000,-5.96px 0 0 #000,6.56px 0 0 #000,-6.56px 0 0 #000">R</div>
<div class="t" style="left:467.87px;top:146.50px;font-size:119.91px;color:#000;font-family:'Liberation Sans',sans-serif;font-weight:bold;transform:scaleX(0.6775);text-shadow:1.48px 0 0 #000,-1.48px 0 0 #000,2.95px 0 0 #000,-2.95px 0 0 #000,4.43px 0 0 #000,-4.43px 0 0 #000,5.90px 0 0 #000,-5.90px 0 0 #000,6.49px 0 0 #000,-6.49px 0 0 #000">A</div>
<div class="t" style="left:531.15px;top:146.50px;font-size:119.91px;color:#000;font-family:'Liberation Sans',sans-serif;font-weight:bold;transform:scaleX(0.6465);text-shadow:1.55px 0 0 #000,-1.55px 0 0 #000,3.09px 0 0 #000,-3.09px 0 0 #000,4.64px 0 0 #000,-4.64px 0 0 #000,6.19px 0 0 #000,-6.19px 0 0 #000,6.81px 0 0 #000,-6.81px 0 0 #000">Ț</div>
<div class="t" style="left:588.34px;top:146.50px;font-size:119.91px;color:#000;font-family:'Liberation Sans',sans-serif;font-weight:bold;transform:scaleX(0.6706);text-shadow:1.49px 0 0 #000,-1.49px 0 0 #000,2.98px 0 0 #000,-2.98px 0 0 #000,4.47px 0 0 #000,-4.47px 0 0 #000,5.96px 0 0 #000,-5.96px 0 0 #000,6.56px 0 0 #000,-6.56px 0 0 #000">I</div>
<div class="t" style="left:618.94px;top:146.50px;font-size:119.91px;color:#000;font-family:'Liberation Sans',sans-serif;font-weight:bold;transform:scaleX(0.7187);text-shadow:1.39px 0 0 #000,-1.39px 0 0 #000,2.78px 0 0 #000,-2.78px 0 0 #000,4.17px 0 0 #000,-4.17px 0 0 #000,5.57px 0 0 #000,-5.57px 0 0 #000,6.12px 0 0 #000,-6.12px 0 0 #000">A</div>
<div class="t" style="left:144.28px;top:248.00px;font-size:213.66px;color:#de0b00;font-family:'Liberation Sans',sans-serif;font-weight:bold;transform:scaleX(0.6802);text-shadow:1.47px 0 0 #de0b00,-1.47px 0 0 #de0b00,2.94px 0 0 #de0b00,-2.94px 0 0 #de0b00,4.41px 0 0 #de0b00,-4.41px 0 0 #de0b00,5.88px 0 0 #de0b00,-5.88px 0 0 #de0b00,7.35px 0 0 #de0b00,-7.35px 0 0 #de0b00,8.82px 0 0 #de0b00,-8.82px 0 0 #de0b00,9.70px 0 0 #de0b00,-9.70px 0 0 #de0b00">B</div>
<div class="t" style="left:260.24px;top:248.00px;font-size:213.66px;color:#de0b00;font-family:'Liberation Sans',sans-serif;font-weight:bold;transform:scaleX(0.7430);text-shadow:1.35px 0 0 #de0b00,-1.35px 0 0 #de0b00,2.69px 0 0 #de0b00,-2.69px 0 0 #de0b00,4.04px 0 0 #de0b00,-4.04px 0 0 #de0b00,5.38px 0 0 #de0b00,-5.38px 0 0 #de0b00,6.73px 0 0 #de0b00,-6.73px 0 0 #de0b00,8.08px 0 0 #de0b00,-8.08px 0 0 #de0b00,8.88px 0 0 #de0b00,-8.88px 0 0 #de0b00">A</div>
<div class="t" style="left:373.43px;top:248.00px;font-size:213.66px;color:#de0b00;font-family:'Liberation Sans',sans-serif;font-weight:bold;transform:scaleX(0.6841);text-shadow:1.46px 0 0 #de0b00,-1.46px 0 0 #de0b00,2.92px 0 0 #de0b00,-2.92px 0 0 #de0b00,4.39px 0 0 #de0b00,-4.39px 0 0 #de0b00,5.85px 0 0 #de0b00,-5.85px 0 0 #de0b00,7.31px 0 0 #de0b00,-7.31px 0 0 #de0b00,8.77px 0 0 #de0b00,-8.77px 0 0 #de0b00,9.65px 0 0 #de0b00,-9.65px 0 0 #de0b00">T</div>
<div class="t" style="left:459.61px;top:248.00px;font-size:213.66px;color:#de0b00;font-family:'Liberation Sans',sans-serif;font-weight:bold;transform:scaleX(0.7486);text-shadow:1.34px 0 0 #de0b00,-1.34px 0 0 #de0b00,2.67px 0 0 #de0b00,-2.67px 0 0 #de0b00,4.01px 0 0 #de0b00,-4.01px 0 0 #de0b00,5.34px 0 0 #de0b00,-5.34px 0 0 #de0b00,6.68px 0 0 #de0b00,-6.68px 0 0 #de0b00,8.02px 0 0 #de0b00,-8.02px 0 0 #de0b00,8.82px 0 0 #de0b00,-8.82px 0 0 #de0b00">A</div>
<div class="t" style="left:586.27px;top:248.00px;font-size:213.66px;color:#de0b00;font-family:'Liberation Sans',sans-serif;font-weight:bold;transform:scaleX(0.7161);text-shadow:1.40px 0 0 #de0b00,-1.40px 0 0 #de0b00,2.79px 0 0 #de0b00,-2.79px 0 0 #de0b00,4.19px 0 0 #de0b00,-4.19px 0 0 #de0b00,5.59px 0 0 #de0b00,-5.59px 0 0 #de0b00,6.98px 0 0 #de0b00,-6.98px 0 0 #de0b00,8.38px 0 0 #de0b00,-8.38px 0 0 #de0b00,9.22px 0 0 #de0b00,-9.22px 0 0 #de0b00">I</div>
<div class="t" style="left:644.77px;top:248.00px;font-size:213.66px;color:#de0b00;font-family:'Liberation Sans',sans-serif;font-weight:bold;transform:scaleX(0.7161);text-shadow:1.40px 0 0 #de0b00,-1.40px 0 0 #de0b00,2.79px 0 0 #de0b00,-2.79px 0 0 #de0b00,4.19px 0 0 #de0b00,-4.19px 0 0 #de0b00,5.59px 0 0 #de0b00,-5.59px 0 0 #de0b00,6.98px 0 0 #de0b00,-6.98px 0 0 #de0b00,8.38px 0 0 #de0b00,-8.38px 0 0 #de0b00,9.22px 0 0 #de0b00,-9.22px 0 0 #de0b00">I</div>
<div class="t" style="left:146.06px;top:442.50px;font-size:119.62px;color:#000;font-family:'Liberation Sans',sans-serif;font-weight:bold;transform:scaleX(0.6671);text-shadow:1.50px 0 0 #000,-1.50px 0 0 #000,3.00px 0 0 #000,-3.00px 0 0 #000,4.50px 0 0 #000,-4.50px 0 0 #000,6.00px 0 0 #000,-6.00px 0 0 #000,6.30px 0 0 #000,-6.30px 0 0 #000">R</div>
<div class="t" style="left:213.05px;top:442.50px;font-size:119.62px;color:#000;font-family:'Liberation Sans',sans-serif;font-weight:bold;transform:scaleX(0.6639);text-shadow:1.51px 0 0 #000,-1.51px 0 0 #000,3.01px 0 0 #000,-3.01px 0 0 #000,4.52px 0 0 #000,-4.52px 0 0 #000,6.03px 0 0 #000,-6.03px 0 0 #000,6.33px 0 0 #000,-6.33px 0 0 #000">U</div>
<div class="t" style="left:279.86px;top:442.50px;font-size:119.62px;color:#000;font-family:'Liberation Sans',sans-serif;font-weight:bold;transform:scaleX(0.6926);text-shadow:1.44px 0 0 #000,-1.44px 0 0 #000,2.89px 0 0 #000,-2.89px 0 0 #000,4.33px 0 0 #000,-4.33px 0 0 #000,5.77px 0 0 #000,-5.77px 0 0 #000,6.06px 0 0 #000,-6.06px 0 0 #000">P</div>
<div class="t" style="left:344.22px;top:442.50px;font-size:119.62px;color:#000;font-family:'Liberation Sans',sans-serif;font-weight:bold;transform:scaleX(0.6775);text-shadow:1.48px 0 0 #000,-1.48px 0 0 #000,2.95px 0 0 #000,-2.95px 0 0 #000,4.43px 0 0 #000,-4.43px 0 0 #000,5.90px 0 0 #000,-5.90px 0 0 #000,6.20px 0 0 #000,-6.20px 0 0 #000">T</div>
<div class="t" style="left:402.79px;top:442.50px;font-size:119.62px;color:#000;font-family:'Liberation Sans',sans-serif;font-weight:bold;transform:scaleX(0.6269);text-shadow:1.60px 0 0 #000,-1.60px 0 0 #000,3.19px 0 0 #000,-3.19px 0 0 #000,4.79px 0 0 #000,-4.79px 0 0 #000,6.38px 0 0 #000,-6.38px 0 0 #000,6.70px 0 0 #000,-6.70px 0 0 #000">E</div>
<div class="t" style="left:491.71px;top:442.50px;font-size:119.62px;color:#000;font-family:'Liberation Sans',sans-serif;font-weight:bold;transform:scaleX(0.6863);text-shadow:1.46px 0 0 #000,-1.46px 0 0 #000,2.91px 0 0 #000,-2.91px 0 0 #000,4.37px 0 0 #000,-4.37px 0 0 #000,5.83px 0 0 #000,-5.83px 0 0 #000,6.12px 0 0 #000,-6.12px 0 0 #000">D</div>
<div class="t" style="left:560.44px;top:442.50px;font-size:119.62px;color:#000;font-family:'Liberation Sans',sans-serif;font-weight:bold;transform:scaleX(0.6706);text-shadow:1.49px 0 0 #000,-1.49px 0 0 #000,2.98px 0 0 #000,-2.98px 0 0 #000,4.47px 0 0 #000,-4.47px 0 0 #000,5.96px 0 0 #000,-5.96px 0 0 #000,6.26px 0 0 #000,-6.26px 0 0 #000">I</div>
<div class="t" style="left:592.27px;top:442.50px;font-size:119.62px;color:#000;font-family:'Liberation Sans',sans-serif;font-weight:bold;transform:scaleX(0.7157);text-shadow:1.40px 0 0 #000,-1.40px 0 0 #000,2.79px 0 0 #000,-2.79px 0 0 #000,4.19px 0 0 #000,-4.19px 0 0 #000,5.59px 0 0 #000,-5.59px 0 0 #000,5.87px 0 0 #000,-5.87px 0 0 #000">N</div>
<div class="t" style="left:693.46px;top:442.50px;font-size:119.62px;color:#000;font-family:'Liberation Sans',sans-serif;font-weight:bold;transform:scaleX(0.6671);text-shadow:1.50px 0 0 #000,-1.50px 0 0 #000,3.00px 0 0 #000,-3.00px 0 0 #000,4.50px 0 0 #000,-4.50px 0 0 #000,6.00px 0 0 #000,-6.00px 0 0 #000,6.30px 0 0 #000,-6.30px 0 0 #000">R</div>
<div class="t" style="left:758.47px;top:442.50px;font-size:119.62px;color:#000;font-family:'Liberation Sans',sans-serif;font-weight:bold;transform:scaleX(0.7425);text-shadow:1.35px 0 0 #000,-1.35px 0 0 #000,2.69px 0 0 #000,-2.69px 0 0 #000,4.04px 0 0 #000,-4.04px 0 0 #000,5.39px 0 0 #000,-5.39px 0 0 #000,5.66px 0 0 #000,-5.66px 0 0 #000">A</div>
<div class="t" style="left:829.25px;top:442.50px;font-size:119.62px;color:#000;font-family:'Liberation Sans',sans-serif;font-weight:bold;transform:scaleX(0.6941);text-shadow:1.44px 0 0 #000,-1.44px 0 0 #000,2.88px 0 0 #000,-2.88px 0 0 #000,4.32px 0 0 #000,-4.32px 0 0 #000,5.76px 0 0 #000,-5.76px 0 0 #000,6.05px 0 0 #000,-6.05px 0 0 #000">I</div>
<div style="position:absolute;left:0;top:0;width:1192px;height:4448px;border:4px solid #4f3d59"></div>
</div>
</body></html>
